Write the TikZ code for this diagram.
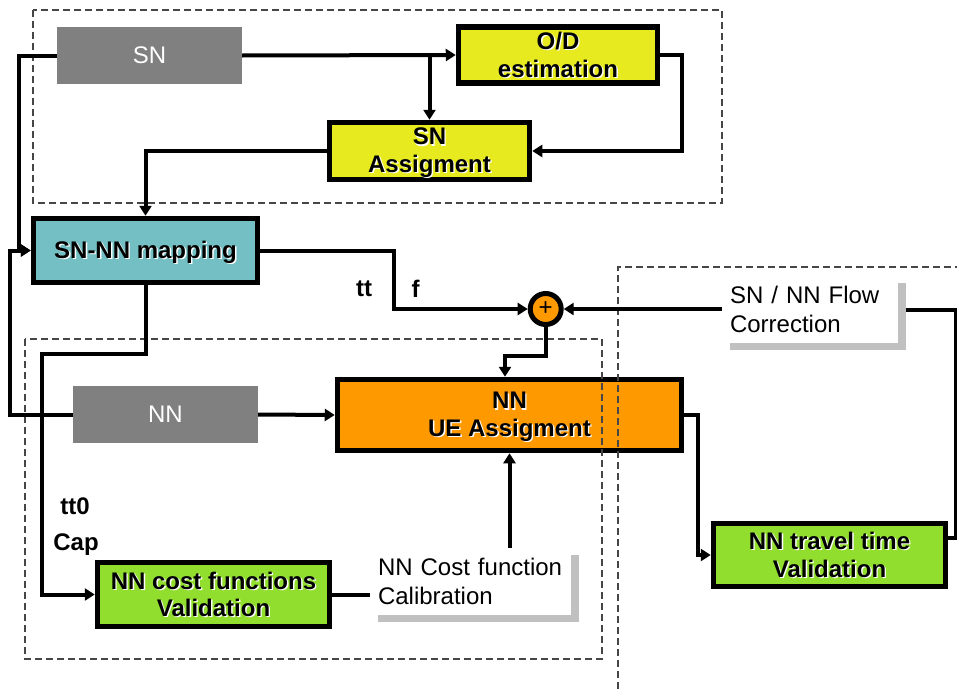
\documentclass[tikz,border=0pt]{standalone}
\usepackage{fontspec}
\setmainfont{Liberation Sans}
\usetikzlibrary{arrows.meta,shadows,calc}
\definecolor{ylw}{RGB}{230,234,30}
\definecolor{tealbox}{RGB}{115,191,196}
\definecolor{org}{RGB}{255,153,0}
\definecolor{grn}{RGB}{146,222,46}
\definecolor{gry}{RGB}{128,128,128}
\definecolor{shd}{RGB}{192,192,192}
\definecolor{dsh}{RGB}{70,70,70}
\newcommand\shtxt[1]{\leavevmode\rule[-0.212em]{0pt}{1.117em}\rlap{\kern1.4pt\raisebox{-1.4pt}{\textcolor{white}{#1}}}#1}
\begin{document}
\begin{tikzpicture}[x=1pt,y=-1pt,
  every node/.style={font=\fontsize{24}{29}\selectfont},
  box/.style={draw=black,line width=5.5pt,inner sep=0pt,align=center,font=\bfseries\fontsize{24}{27.5}\selectfont},
  graybox/.style={fill=gry,text=white,inner sep=0pt,minimum width=185pt,minimum height=57pt},
  conn/.style={line width=4pt,line join=miter},
  arr/.style={conn,-{Triangle[length=10pt,width=12pt]}},
  dbox/.style={draw=dsh,line width=1.1pt,dash pattern=on 7pt off 4pt},
  note/.style={fill=white,align=left,inner xsep=8pt,inner ysep=0pt,minimum height=67pt,
    drop shadow={shadow xshift=8pt,shadow yshift=-7pt,fill=shd,opacity=1}},
  lbl/.style={font=\bfseries\fontsize{24}{28}\selectfont,inner sep=0pt}
]
\useasboundingbox (0,0) rectangle (957,688);

% nodes
\node[graybox] (sn) at (149.5,55.5) {SN};
\node[box,fill=ylw,minimum width=199pt,minimum height=56pt] (od) at (558,55) {\shtxt{O/D}\\\shtxt{estimation}};
\node[box,fill=ylw,minimum width=200pt,minimum height=57pt] (sna) at (429.5,151) {\shtxt{SN}\\\shtxt{Assigment}};
\node[box,fill=tealbox,minimum width=224pt,minimum height=64pt] (map) at (145.5,250.5) {\shtxt{SN-NN mapping}};
\node[graybox] (nn) at (165.5,414.5) {NN};
\node[box,fill=org,minimum width=344pt,minimum height=71pt] (ue) at (509.5,415) {\shtxt{NN}\\\shtxt{UE Assigment}};
\node[box,fill=grn,minimum width=232pt,minimum height=64pt] (cost) at (213.5,594.5) {\shtxt{NN cost functions}\\\shtxt{Validation}};
\node[box,fill=grn,minimum width=232pt,minimum height=63pt] (tt) at (829.5,555) {\shtxt{NN travel time}\\\shtxt{Validation}};
\node[circle,draw=black,fill=org,line width=5pt,minimum size=31pt,inner sep=0pt,font=\fontsize{24}{24}\selectfont] (plus) at (545.7,309) {+};
\node[note,text width=160pt] (flow) at (810,309.5) {SN / NN Flow\\Correction};
\node[note,text width=185pt] (cal) at (470.5,581.5) {NN Cost function\\Calibration};

\node[lbl] (ltt) at (364,289) {tt};
\node[lbl] (lf) at (415.5,289) {f};
\node[lbl] (ltto) at (75,506) {tt0};
\node[lbl] (lcap) at (76,545) {Cap};

% dashed groups
\draw[dbox] (33,10) rectangle (722,203);
\draw[dbox] (25,339) rectangle (602,659);
\draw[dbox] (618,700) -- (618,267) -- (980,267);

% connectors
\draw[arr] (sn.east) -- (od.west);
\draw[arr] (sn.east -| sna.north) -- (sna.north);
\draw[arr] (od.east) -- ++(22,0) |- (sna.east);
\draw[arr] (sna.west) -| (map.north);
\draw[arr] (sn.west) -- ++(-38,0) |- (map.west);
\draw[arr] (nn.west) -- ++(-63,0) |- (map.west);
\draw[arr] (map.east) -- ++(134,0) |- (plus.west);
\draw[arr] (flow.west |- plus.east) -- (plus.east);
\draw[conn] ([yshift=17pt]tt.east) -- ++(8,0) |- ([xshift=8pt]flow.east);
\draw[arr] (plus.south) -- ++(0,29) -| ([xshift=-4.5pt]ue.north);
\draw[arr] (nn.east) -- (ue.west);
\draw[arr] (map.south) -- ++(0,69) -- ++(-104,0) |- (cost.west);
\draw[conn] (cost.east) -- (cost.east -| cal.west);
\draw[arr] (ue.south |- cal.north) -- (ue.south);
\draw[arr] (ue.east) -- ++(13.5,0) |- (tt.west);
\end{tikzpicture}
\end{document}
